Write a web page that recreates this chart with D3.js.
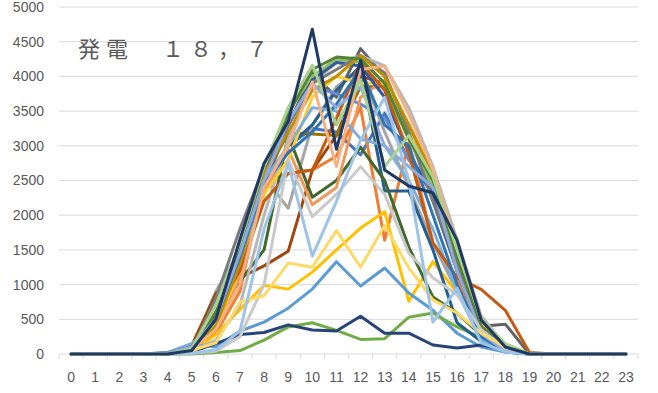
<!DOCTYPE html>
<html>
<head>
<meta charset="utf-8">
<script src="https://cdn.jsdelivr.net/npm/d3@7"></script>
<style>
body { margin: 0; background: #fff; }
text { font-family: "Liberation Sans", Arial, sans-serif; fill: #595959; }
</style>
</head>
<body>
<div id="graph"></div>
<script>
// hours on the x axis
var hours = d3.range(0, 24);
var yTicks = [0, 500, 1000, 1500, 2000, 2500, 3000, 3500, 4000, 4500, 5000];
var title = "発電　１８，７";

// one line per day of the month, Excel default colours in order
var colors = ["#4472C4","#ED7D31","#A5A5A5","#FFC000","#5B9BD5","#70AD47",
              "#264478","#9E480E","#636363","#997300","#255E91","#43682B",
              "#698ED0","#F1975A","#B7B7B7","#FFCD33","#7CAFDD","#8CC168",
              "#335AA1","#C55A11","#7B7B7B","#BF9000","#2E75B6","#548235",
              "#8FAADC","#F4B183","#C9C9C9","#FFD966","#9DC3E6","#A9D18E",
              "#203864"];

var d01 = [0,0,0,0,10,100,450,1300,2300,3000,3250,3200,2870,3470,2800,2300,1300,350,60,0,0,0,0,0];
var d02 = [0,0,0,0,0,60,300,900,2500,2600,2650,2850,3550,1640,3050,1600,1100,300,50,0,0,0,0,0];
var d03 = [0,0,0,0,0,50,900,1500,2550,2100,3300,3850,4100,3200,2400,1600,900,250,40,0,0,0,0,0];
var d04 = [0,0,0,0,0,30,280,640,990,935,1180,1500,1815,2050,760,1330,880,330,50,0,0,0,0,0];
var d05 = [0,0,0,0,20,150,100,330,460,660,935,1330,980,1240,880,630,300,100,30,0,0,0,0,0];
var d06 = [0,0,0,0,0,0,20,50,200,390,450,340,210,220,530,590,390,240,60,0,0,0,0,0];
var d07 = [0,0,0,0,0,30,150,280,310,420,345,330,545,300,300,130,85,130,60,0,0,0,0,0];
var d08 = [0,0,0,0,10,120,870,1100,1270,1480,2650,3150,4000,3900,3100,2400,1200,400,80,0,0,0,0,0];
var d09 = [0,0,0,0,0,50,400,1200,2400,3300,4050,3700,4400,4000,3200,2200,1200,400,430,0,0,0,0,0];
var d10 = [0,0,0,0,0,60,450,1300,2550,3180,3170,3150,3850,3850,3300,2500,1300,500,100,0,0,0,0,0];
var d11 = [0,0,0,0,0,80,500,1350,2400,3000,3300,3800,4150,2350,2350,1500,450,180,30,0,0,0,0,0];
var d12 = [0,0,0,0,0,80,600,1050,1500,3150,2260,2500,2980,2500,1540,820,590,270,100,0,0,0,0,0];
var d13 = [0,0,0,0,20,100,550,1500,2600,3300,3850,3750,3600,3400,2800,2400,1400,400,60,0,0,0,0,0];
var d14 = [0,0,0,0,0,60,400,1100,2300,2950,2150,2400,3700,3950,3300,2500,1500,450,80,0,0,0,0,0];
var d15 = [0,0,0,0,0,40,200,700,2000,3100,3900,4200,4300,4150,3550,2700,1650,550,120,0,0,0,0,0];
var d16 = [0,0,0,0,0,40,400,1200,2300,2800,3700,4000,3900,3900,3200,2400,1400,450,80,0,0,0,0,0];
var d17 = [0,0,0,0,10,150,450,1300,2500,3000,3550,3500,3100,3000,2500,1800,900,200,30,0,0,0,0,0];
var d18 = [0,0,0,0,0,60,450,1300,2600,3500,4000,4250,4200,3800,3100,2400,1300,350,60,0,0,0,0,0];
var d19 = [0,0,0,0,10,100,550,1600,2650,3300,3950,4200,4150,3700,2900,2300,1200,300,40,0,0,0,0,0];
var d20 = [0,0,0,0,0,100,600,1200,2200,2600,2650,3400,4200,3800,2900,1600,1100,930,630,20,0,0,0,0];
var d21 = [0,0,0,0,0,60,800,1800,2700,3300,3900,4100,4300,4050,3200,2200,1300,400,80,0,0,0,0,0];
var d22 = [0,0,0,0,0,50,400,1300,2600,3200,3800,4000,4300,4000,3300,2600,1500,500,80,0,0,0,0,0];
var d23 = [0,0,0,0,10,100,500,1400,2450,2900,3200,3600,4100,3300,3000,2000,1000,250,40,0,0,0,0,0];
var d24 = [0,0,0,0,0,70,600,1500,2700,3450,4100,4280,4250,3900,3100,2500,1400,400,60,0,0,0,0,0];
var d25 = [0,0,0,0,10,100,500,1450,2500,3350,3900,3550,3850,3000,2700,2400,1200,300,40,0,0,0,0,0];
var d26 = [0,0,0,0,0,60,350,1000,2400,3000,3920,2700,4100,4150,3450,2650,1550,500,100,0,0,0,0,0];
var d27 = [0,0,0,0,0,10,40,250,1000,2800,1980,2300,2700,2300,1450,1100,850,350,80,0,0,0,0,0];
var d28 = [0,0,0,0,0,50,160,750,840,1310,1250,1780,1250,1850,1240,780,590,300,100,0,0,0,0,0];
var d29 = [0,0,0,0,0,10,60,330,1800,2750,1410,2200,3080,3700,2500,460,950,160,30,0,0,0,0,0];
var d30 = [0,0,0,0,0,80,700,1600,2700,3550,4160,3300,3950,2700,3150,2550,1500,500,150,0,0,0,0,0];
var d31 = [0,0,0,0,0,50,500,1650,2750,3350,4680,2950,4230,2650,2420,2320,1640,490,100,0,0,0,0,0];

var days = [d01,d02,d03,d04,d05,d06,d07,d08,d09,d10,d11,d12,d13,d14,d15,d16,
            d17,d18,d19,d20,d21,d22,d23,d24,d25,d26,d27,d28,d29,d30,d31];

var w = 658, h = 393;
var vis = d3.select("div#graph").append("svg")
    .attr("width", w)
    .attr("height", h);

var x = d3.scalePoint().domain(hours).range([59, 638]).padding(0.5);
var y = d3.scaleLinear().domain([0, 5000]).range([354, 7]);
var step = x.step();

// gridlines
vis.selectAll("line.grid")
   .data(yTicks)
   .enter().append("line")
   .attr("class", "grid")
   .attr("x1", 59).attr("x2", 638)
   .attr("y1", function(d) { return y(d); })
   .attr("y2", function(d) { return y(d); })
   .attr("stroke", "#D9D9D9")
   .attr("stroke-width", 1);

// y labels
vis.selectAll("text.ylab")
   .data(yTicks)
   .enter().append("text")
   .attr("class", "ylab")
   .attr("x", 44)
   .attr("y", function(d) { return y(d); })
   .attr("dy", "0.35em")
   .attr("text-anchor", "end")
   .style("font-size", "14px")
   .text(function(d) { return d; });

// category tick marks between hours
vis.selectAll("line.tick")
   .data(d3.range(0, 25))
   .enter().append("line")
   .attr("class", "tick")
   .attr("x1", function(d) { return 59 + d*step; })
   .attr("x2", function(d) { return 59 + d*step; })
   .attr("y1", y(0)).attr("y2", y(0) + 5)
   .attr("stroke", "#D9D9D9");

vis.selectAll("text.xlab")
   .data(hours)
   .enter().append("text")
   .attr("class", "xlab")
   .attr("x", function(d) { return x(d); })
   .attr("y", 382)
   .attr("text-anchor", "middle")
   .style("font-size", "14px")
   .text(function(d) { return d; });

// the lines
var line = d3.line()
    .x(function(d, i) { return x(hours[i]); })
    .y(function(d) { return y(d); });

vis.selectAll("path.day")
   .data(days)
   .enter().append("path")
   .attr("class", "day")
   .attr("d", line)
   .attr("fill", "none")
   .attr("stroke", function(d, i) { return colors[i]; })
   .attr("stroke-width", 3)
   .attr("stroke-linejoin", "round")
   .attr("stroke-linecap", "round");

vis.append("text")
   .attr("x", 78)
   .attr("y", 57)
   .style("font-family", "'Noto Sans CJK JP', sans-serif")
   .style("font-size", "22px")
   .style("letter-spacing", "6px")
   .text(title);
</script>
</body>
</html>
